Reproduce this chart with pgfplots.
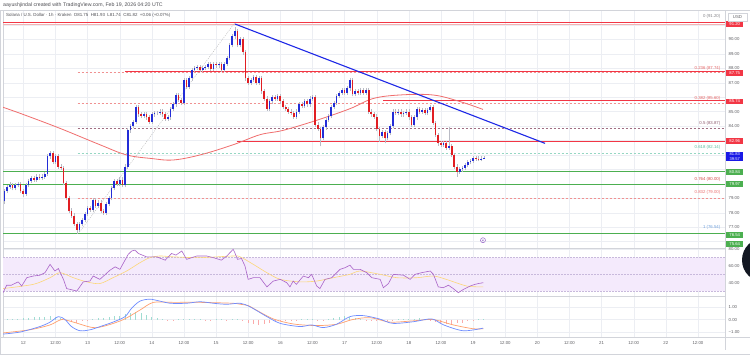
\documentclass[border=0pt]{standalone}
\usepackage{fontspec}
\setmainfont{Liberation Sans}
\usepackage{pgfplots}
\usepackage{pgfplotstable}
\pgfplotsset{compat=1.18}
\newcommand\ft[1]{\fontsize{#1}{#1}\selectfont}
\definecolor{upc}{RGB}{35,45,215}
\definecolor{dnc}{RGB}{225,30,35}
\definecolor{wick}{RGB}{185,187,197}
\definecolor{tvred}{RGB}{242,54,69}
\definecolor{tvgreen}{RGB}{76,175,80}
\definecolor{tblue}{RGB}{30,40,230}
\definecolor{maline}{RGB}{240,110,110}
\definecolor{gridc}{RGB}{236,238,243}
\definecolor{framec}{RGB}{210,212,218}
\definecolor{txt}{RGB}{95,95,100}
\definecolor{boxblue}{RGB}{25,25,230}
\definecolor{fibr}{RGB}{240,145,145}
\definecolor{fibm}{RGB}{160,110,130}
\definecolor{fibt}{RGB}{150,215,195}
\definecolor{rsic}{RGB}{170,100,200}
\definecolor{rsima}{RGB}{252,215,120}
\definecolor{rsiband}{RGB}{244,234,252}
\definecolor{rsidash}{RGB}{200,185,220}
\definecolor{macdc}{RGB}{110,140,255}
\definecolor{sigc}{RGB}{255,160,110}
\definecolor{hpos}{RGB}{160,220,210}
\definecolor{hneg}{RGB}{250,170,170}
\definecolor{t0}{RGB}{130,130,135}
\definecolor{t236}{RGB}{230,100,100}
\definecolor{t5}{RGB}{140,90,110}
\definecolor{t618}{RGB}{90,190,160}
\definecolor{t764}{RGB}{210,70,70}
\definecolor{t832}{RGB}{235,110,110}
\definecolor{t1}{RGB}{110,160,220}
\definecolor{iconc}{RGB}{150,100,200}
\definecolor{hdr}{RGB}{80,80,85}
\definecolor{dark}{RGB}{19,23,34}

\pgfplotstableread{
h o hi lo c
-7 78.8 79.65 78.6 79.5
-6 79.5 79.95 79.35 79.8
-5 79.8 80.1 79.65 79.9
-4 79.9 80.05 79.55 79.7
-3 79.7 80.05 79.55 79.9
-2 79.9 80.15 79.75 80.0
-1 80.0 80.15 79.35 79.5
0 79.5 79.65 79.1 79.3
1 79.3 80.05 79.15 79.9
2 79.9 80.35 79.75 80.2
3 80.2 80.55 80.05 80.4
4 80.4 80.55 80.15 80.3
5 80.3 80.65 80.15 80.5
6 80.5 80.65 80.25 80.4
7 80.4 80.65 80.25 80.5
8 80.5 80.85 80.35 80.7
9 80.7 82.05 80.55 81.9
10 81.9 82.3 81.75 82.1
11 82.1 82.25 81.35 81.5
12 81.5 82.05 81.35 81.9
13 81.9 82.05 81.05 81.2
14 81.2 81.35 80.95 81.1
15 81.1 81.25 79.9 80.05
16 80.05 80.2 78.85 79.0
17 79.0 79.15 77.95 78.1
18 78.1 78.3 77.65 77.8
19 77.8 77.95 77.05 77.2
20 77.2 77.35 76.54 76.8
21 76.8 77.35 76.65 77.2
22 77.2 77.65 77.05 77.5
23 77.5 78.05 77.35 77.9
24 77.9 78.45 77.75 78.3
25 78.3 78.45 78.05 78.2
26 78.2 79.05 78.05 78.9
27 78.9 79.05 78.35 78.5
28 78.5 78.85 78.35 78.7
29 78.7 78.85 77.95 78.1
30 78.1 78.25 77.85 78.0
31 78.0 78.75 77.85 78.6
32 78.6 79.15 78.45 79.0
33 79.0 79.85 78.85 79.7
34 79.7 80.35 79.55 80.2
35 80.2 80.35 79.85 80.0
36 80.0 80.45 79.85 80.3
37 80.3 80.45 79.75 79.9
38 79.9 81.35 79.75 81.2
39 81.2 83.85 81.05 83.7
40 83.7 84.15 83.55 84.0
41 84.0 84.45 83.85 84.3
42 84.3 85.45 84.15 85.3
43 85.3 85.45 84.65 84.8
44 84.8 84.95 84.55 84.7
45 84.7 84.95 84.55 84.8
46 84.8 84.95 84.45 84.6
47 84.6 84.75 84.15 84.3
48 84.3 84.95 84.15 84.8
49 84.8 85.05 84.65 84.9
50 84.9 85.05 84.75 84.9
51 84.9 85.15 84.75 85.0
52 85.0 85.15 84.65 84.8
53 84.8 84.95 84.35 84.5
54 84.5 84.75 84.35 84.6
55 84.6 85.35 84.45 85.2
56 85.2 85.65 85.05 85.5
57 85.5 86.3 85.35 86.15
58 86.15 86.3 85.65 85.8
59 85.8 85.95 85.45 85.6
60 85.6 87.35 85.45 87.2
61 87.2 87.35 86.55 86.7
62 86.7 87.45 86.55 87.3
63 87.3 88.05 87.15 87.9
64 87.9 88.15 87.75 88.0
65 88.0 88.25 87.85 88.1
66 88.1 88.25 87.75 87.9
67 87.9 88.15 87.75 88.0
68 88.0 88.25 87.85 88.1
69 88.1 88.45 87.95 88.3
70 88.3 88.45 87.8 87.95
71 87.95 88.45 87.8 88.3
72 88.3 88.45 88.05 88.2
73 88.2 88.45 88.05 88.3
74 88.3 88.45 87.75 87.9
75 87.9 88.45 87.75 88.3
76 88.3 88.85 88.15 88.7
77 88.7 89.75 88.55 89.6
78 89.6 90.35 89.45 90.2
79 90.2 90.85 90.05 90.6
80 90.6 90.75 89.45 89.6
81 89.6 90.15 89.45 90.0
82 90.0 90.15 88.95 89.1
83 89.1 89.25 87.15 87.3
84 87.3 87.45 86.85 87.0
85 87.0 87.35 86.85 87.2
86 87.2 87.55 87.05 87.4
87 87.4 87.55 86.85 87.0
88 87.0 87.45 86.85 87.3
89 87.3 87.45 86.25 86.4
90 86.4 86.55 85.75 85.9
91 85.9 86.05 85.05 85.2
92 85.2 85.85 85.05 85.7
93 85.7 86.15 85.55 86.0
94 86.0 86.15 85.75 85.9
95 85.9 86.25 85.75 86.1
96 86.1 86.25 85.55 85.7
97 85.7 85.85 85.15 85.3
98 85.3 85.45 85.05 85.2
99 85.2 85.35 84.85 85.0
100 85.0 85.15 84.75 84.9
101 84.9 85.05 84.5 84.65
102 84.65 85.15 84.5 85.0
103 85.0 85.65 84.85 85.5
104 85.5 85.65 85.25 85.4
105 85.4 85.85 85.25 85.7
106 85.7 85.85 85.35 85.5
107 85.5 86.05 85.35 85.9
108 85.9 86.15 85.75 86.0
109 86.0 86.15 83.95 84.1
110 84.1 84.25 83.65 83.8
111 83.8 83.95 82.6 83.15
112 83.15 84.05 83.0 83.9
113 83.9 84.55 83.75 84.4
114 84.4 84.85 84.25 84.7
115 84.7 85.45 84.55 85.3
116 85.3 85.75 85.15 85.6
117 85.6 86.25 85.45 86.1
118 86.1 86.45 85.95 86.3
119 86.3 86.65 86.15 86.5
120 86.5 86.65 86.15 86.3
121 86.3 86.75 86.15 86.6
122 86.6 87.35 86.45 87.2
123 87.2 87.35 86.05 86.2
124 86.2 86.55 86.05 86.4
125 86.4 86.55 86.15 86.3
126 86.3 86.65 86.15 86.5
127 86.5 86.65 86.15 86.3
128 86.3 86.65 86.15 86.5
129 86.5 86.65 84.85 85.0
130 85.0 85.15 84.65 84.8
131 84.8 84.95 84.5 84.65
132 84.65 84.8 83.65 83.8
133 83.8 83.95 82.9 83.3
134 83.3 83.75 83.15 83.6
135 83.6 83.75 82.8 83.15
136 83.15 83.65 83.0 83.5
137 83.5 84.15 83.35 84.0
138 84.0 85.15 83.85 85.0
139 85.0 85.15 84.75 84.9
140 84.9 85.15 84.75 85.0
141 85.0 85.15 84.65 84.8
142 84.8 85.05 84.65 84.9
143 84.9 85.15 84.75 85.0
144 85.0 85.15 84.45 84.6
145 84.6 84.75 83.95 84.1
146 84.1 84.75 83.95 84.6
147 84.6 85.35 84.45 85.2
148 85.2 85.35 84.85 85.0
149 85.0 85.25 84.85 85.1
150 85.1 85.25 84.75 84.9
151 84.9 85.25 84.75 85.1
152 85.1 85.45 84.95 85.3
153 85.3 85.45 84.05 84.2
154 84.2 84.35 83.25 83.4
155 83.4 83.55 82.65 82.8
156 82.8 82.95 82.55 82.7
157 82.7 82.95 82.55 82.8
158 82.8 82.95 82.35 82.5
159 82.5 83.9 82.35 82.6
160 82.6 82.75 81.85 82.0
161 82.0 82.15 81.05 81.2
162 81.2 81.35 80.5 80.85
163 80.85 81.15 80.7 81.0
164 81.0 81.25 80.85 81.1
165 81.1 81.45 80.95 81.3
166 81.3 81.65 81.15 81.5
167 81.5 81.75 81.35 81.6
168 81.6 81.95 81.45 81.8
169 81.8 81.95 81.6 81.75
170 81.75 81.9 81.55 81.7
171 81.7 81.9 81.55 81.75
172 81.75 81.93 81.74 81.82
}\candles

\pgfplotstableread{
h v
-6 0.02
-4 0.05
-2 0.08
0 0.12
2 0.15
4 0.18
6 0.2
8 0.22
10 0.25
12 0.2
14 0.1
16 -0.1
18 -0.2
20 -0.25
22 -0.15
24 -0.05
26 0.05
28 0.1
30 0.15
32 0.2
34 0.25
36 0.3
38 0.4
40 0.55
42 0.6
44 0.5
46 0.35
48 0.2
50 0.1
52 0.05
54 -0.03
56 -0.05
58 0.03
60 0.05
62 0.04
64 0.05
66 0.03
68 -0.02
70 -0.03
72 0.02
74 0.03
76 -0.02
78 0.05
80 0.08
82 -0.15
84 -0.25
86 -0.35
88 -0.4
90 -0.35
92 -0.25
94 -0.15
96 -0.1
98 -0.05
100 -0.05
102 -0.1
104 0.05
106 0.08
108 0.05
110 -0.1
112 -0.08
114 0.05
116 0.12
118 0.2
120 0.25
122 0.22
124 0.12
126 0.05
128 -0.05
130 -0.12
132 -0.15
134 -0.15
136 -0.1
138 -0.05
140 0.03
142 0.05
144 0.05
146 0.08
148 0.1
150 0.05
152 -0.05
154 -0.2
156 -0.3
158 -0.35
160 -0.35
162 -0.3
164 -0.25
166 -0.15
168 -0.05
170 0.03
172 0.05
}\hist

\pgfplotsset{
  pane/.style={
    scale only axis, width=722pt, xmin=-7.58, xmax=262.1,
    xtick={0,12,...,252},
    grid=major, major grid style={draw=gridc, line width=0.35pt},
    tick style={draw=none}, axis line style={draw=framec, line width=0.4pt},
    yticklabel pos=right,
    yticklabel style={font=\ft{4.3}, text=txt, anchor=west, xshift=3.5pt, inner sep=0pt},
    clip mode=individual,
  },
  notx/.style={xticklabel style={opacity=0, font=\ft{2}}},
  body/.style={draw=none, mark=none, forget plot, error bars/.cd, y dir=plus, y explicit, error mark=none, error bar style={draw=#1, solid, line width=1.7pt}},
}
\tikzset{
  pbox/.style={inner sep=0pt, minimum width=17pt, minimum height=5.6pt, anchor=west, xshift=1pt, font=\ft{4.2}, text=white},
  fibl/.style={anchor=south east, inner sep=0.5pt, font=\ft{4.3}},
}

\begin{document}
\begin{tikzpicture}
\useasboundingbox (0,0) rectangle (750pt,-354pt);
\fill[white] (0,0) rectangle (750pt,-354pt);
\draw[framec, line width=0.4pt] (0.3pt,-10pt) rectangle (749.7pt,-353.7pt);

% ---------------- price pane ----------------
\begin{axis}[pane, notx, at={(3pt,-10pt)}, anchor=north west, height=238pt,
  ymin=75.56, ymax=92.03, ytick={76,...,91},
  yticklabels={,77.00,78.00,79.00,,,,,84.00,85.00,,87.00,88.00,89.00,90.00,}]
% fib levels
\addplot[fibr, line width=0.5pt, dash pattern=on 2pt off 2pt] coordinates {(20.3,87.74) (262.1,87.74)};
\addplot[fibr, line width=0.5pt, dash pattern=on 2pt off 2pt] coordinates {(20.3,85.60) (262.1,85.60)};
\addplot[fibm, line width=0.5pt, dash pattern=on 2pt off 2pt] coordinates {(20.3,83.87) (262.1,83.87)};
\addplot[fibt, line width=0.5pt, dash pattern=on 2pt off 2pt] coordinates {(20.3,82.14) (262.1,82.14)};
\addplot[fibr, line width=0.5pt, dash pattern=on 2pt off 2pt] coordinates {(20.3,79.00) (262.1,79.00)};
\addplot[fibr!70, line width=0.5pt] coordinates {(-7.58,91.03) (262.1,91.03)};
\addplot[gray!60, line width=0.4pt, dash pattern=on 1pt off 1.2pt] coordinates {(20.5,76.54) (79.2,91.2)};
% horizontal levels
\addplot[tvred, line width=0.8pt] coordinates {(-7.58,91.20) (262.1,91.20)};
\addplot[tvred, line width=0.8pt] coordinates {(38,87.75) (262.1,87.75)};
\addplot[tvred, line width=0.8pt] coordinates {(134.4,85.74) (262.1,85.74)};
\addplot[tvred, line width=0.8pt] coordinates {(79.7,82.96) (262.1,82.96)};
\addplot[tvgreen, line width=0.8pt] coordinates {(-7.58,80.84) (262.1,80.84)};
\addplot[tvgreen, line width=0.8pt] coordinates {(-7.58,79.97) (262.1,79.97)};
\addplot[tvgreen, line width=0.8pt] coordinates {(-7.58,76.54) (262.1,76.54)};
% moving average
\addplot[maline, line width=0.8pt, smooth, tension=0.6] coordinates {
(-7.58,85.3) (0,84.8) (13.7,83.84) (28.7,82.7) (38.6,82.0) (48,81.75) (55.9,81.65)
(66,82.0) (78.3,82.7) (88.4,83.4) (97,83.7) (109.6,84.4) (122,85.2) (130.6,85.9)
(140.7,86.15) (153,86.15) (163,85.7) (171.7,85.15)};
% candles: wicks
\addplot[draw=none, mark=none, forget plot, error bars/.cd, y dir=plus, y explicit, error mark=none,
  error bar style={draw=wick, solid, line width=0.45pt}]
  table[x=h, y=lo, y error plus expr=\thisrow{hi}-\thisrow{lo}] {\candles};
% candles: up bodies
\addplot[body=upc] table[x=h, y expr={\thisrow{c}>=\thisrow{o} ? \thisrow{o} : nan},
  y error plus expr=\thisrow{c}-\thisrow{o}] {\candles};
% candles: down bodies
\addplot[body=dnc] table[x=h, y expr={\thisrow{c}<\thisrow{o} ? \thisrow{c} : nan},
  y error plus expr=\thisrow{o}-\thisrow{c}] {\candles};
% trend line
\addplot[tblue, line width=1.1pt] coordinates {(79.1,91.06) (194.9,82.8)};
% fib texts
\node[fibl, text=t0, yshift=3.2pt] at (axis cs:260.6,91.20) {0 (91.20)};
\node[fibl, text=t236, yshift=1pt] at (axis cs:260.6,87.74) {0.236 (87.74)};
\node[fibl, text=t236, yshift=2.2pt] at (axis cs:260.6,85.60) {0.382 (85.60)};
\node[fibl, text=t5, yshift=2.2pt] at (axis cs:260.6,83.87) {0.5 (83.87)};
\node[fibl, text=t618, yshift=2.8pt] at (axis cs:260.6,82.14) {0.618 (82.14)};
\node[fibl, text=t764, yshift=2.2pt] at (axis cs:260.6,80.00) {0.764 (80.00)};
\node[fibl, text=t832, yshift=3pt] at (axis cs:260.6,79.00) {0.832 (79.00)};
\node[fibl, text=t1, yshift=4pt] at (axis cs:260.6,76.54) {1 (76.54)};
% marker icon
\node[circle, draw=iconc, line width=0.5pt, inner sep=0pt, minimum size=5pt] at (axis cs:171.7,76.1) {};
\node[circle, fill=iconc, inner sep=0pt, minimum size=1.6pt] at (axis cs:171.7,76.1) {};
% price boxes on scale
\node[pbox, fill=tvred] at (axis cs:262.1,91.05) {91.20};
\node[pbox, fill=tvred] at (axis cs:262.1,87.68) {87.75};
\node[pbox, fill=tvred] at (axis cs:262.1,85.70) {85.74};
\node[pbox, fill=tvred] at (axis cs:262.1,82.96) {82.96};
\node[pbox, fill=boxblue, minimum height=9pt, align=center, font=\fontsize{4.1}{4.5}\selectfont] at (axis cs:262.1,81.90) {81.83\\39:57};
\node[pbox, fill=tvgreen] at (axis cs:262.1,80.84) {80.84};
\node[pbox, fill=tvgreen] at (axis cs:262.1,79.97) {79.97};
\node[pbox, fill=tvgreen] at (axis cs:262.1,76.46) {76.54};
\node[pbox, fill=tvgreen] at (axis cs:262.1,75.83) {75.64};
\end{axis}

% ---------------- RSI pane ----------------
\begin{axis}[pane, notx, at={(3pt,-248pt)}, anchor=north west, height=48pt,
  ymin=24.07, ymax=81.56, ytick={40,60,80}, yticklabels={40.00,60.00,80.00}]
\addplot[fill=rsiband, draw=none] coordinates {(-7.58,30) (262.1,30) (262.1,70) (-7.58,70)} \closedcycle;
\addplot[rsidash, line width=0.4pt, dash pattern=on 1.5pt off 1.5pt] coordinates {(-7.58,70) (262.1,70)};
\addplot[rsidash, line width=0.4pt, dash pattern=on 1.5pt off 1.5pt] coordinates {(-7.58,50) (262.1,50)};
\addplot[rsidash, line width=0.4pt, dash pattern=on 1.5pt off 1.5pt] coordinates {(-7.58,30) (262.1,30)};
\addplot[rsima, line width=0.6pt, smooth] coordinates {
(-7.58,33) (3.7,38) (10,46) (13.7,52) (18.7,46) (23.7,41) (28.6,39) (33.5,46) (38.6,54)
(43.6,64) (47.3,70) (51,72) (56,71) (66,70) (78.3,72) (81,71) (85.9,62) (91,52) (96,44)
(103.4,41) (109.6,42) (115.8,46) (122,50) (125.8,54) (133.3,50) (139.5,46) (147,46)
(153.2,48) (158,44) (165.7,36) (171.8,35)};
\addplot[rsic, line width=0.6pt] coordinates {
(-7.58,28) (-6.2,37) (-4.5,37) (-1.9,41) (-0.6,36) (1.3,46) (3.7,48) (6.2,49) (8.1,52)
(10,62) (11.8,54) (13.1,57) (15,44) (16.2,33) (20,30) (22.4,41) (24.9,42) (26.1,48)
(28.6,44) (32.4,55) (34.3,59) (36.1,56) (39.2,74) (40.5,78) (41.7,79) (43,75) (46,71)
(49.8,71) (53,67) (55.4,75) (57,73) (59.2,78) (61,68) (64.8,72) (68.5,72) (71,70) (74,67)
(76,72) (78.4,80) (79,76) (80,68) (81.5,69) (82.8,60) (84,44) (85.9,46) (88.4,46) (91,35)
(93.4,42) (96,44) (98.4,40) (99.6,35) (100.8,42) (102,38) (104.6,48) (106.5,46) (107.7,50)
(109.6,36) (110.8,33) (112.7,44) (115.2,46) (118.3,56) (120.2,58) (122,61) (123.3,56)
(125.8,56) (128.3,52) (130.2,46) (133.3,44) (134.5,34) (136.4,39) (138.2,50) (142,49)
(144.5,44) (146.3,50) (148.8,52) (152,54) (153.2,50) (155,35) (156.9,34) (158.8,37)
(160.6,33) (162.5,28) (164.4,32) (166.9,36) (168.7,38) (170,39) (171.8,40)};
\end{axis}

% ---------------- MACD pane ----------------
\begin{axis}[pane, at={(3pt,-296pt)}, anchor=north west, height=41pt,
  ymin=-1.37, ymax=1.85, ytick={-1,0,1}, yticklabels={−1.00,0.00,1.00},
  xticklabels={12,12:00,13,12:00,14,12:00,15,12:00,16,12:00,17,12:00,18,12:00,19,12:00,20,12:00,21,12:00,22,12:00},
  xticklabel style={font=\ft{4.3}, text=txt, yshift=-1.2pt}]
\addplot[ycomb, draw=hpos, line width=0.9pt, mark=none] table[x=h, y expr={\thisrow{v}>=0 ? \thisrow{v} : nan}] {\hist};
\addplot[ycomb, draw=hneg, line width=0.9pt, mark=none] table[x=h, y expr={\thisrow{v}<0 ? \thisrow{v} : nan}] {\hist};
\addplot[sigc, line width=0.7pt, smooth] coordinates {
(-7.58,-1.05) (2.5,-0.8) (10,-0.42) (14.3,0) (18.7,-0.2) (26,-0.63) (31,-0.47) (37.4,0)
(43.6,0.75) (48.6,1.35) (56,1.35) (66,1.35) (78.3,1.28) (81,1.2) (84,1.1) (87,0.75)
(93.4,0.05) (101,-0.35) (109.6,-0.47) (117,-0.37) (123,0) (129.5,0.15) (137,-0.2)
(145.7,-0.1) (153,0) (160.6,-0.42) (168,-0.72) (171.8,-0.72)};
\addplot[macdc, line width=0.7pt, smooth] coordinates {
(-7.58,-1.14) (-1.2,-0.98) (6.2,-0.55) (10,-0.2) (13.1,0.23) (15.6,0) (18,-0.55) (21.2,-0.88)
(25,-0.8) (28.7,-0.55) (33.5,-0.2) (38,0.23) (40.5,0.9) (43.6,1.45) (47.3,1.6) (51,1.45)
(54.8,1.28) (61,1.28) (66,1.4) (71,1.28) (76,1.2) (81,1.28) (84.7,1.0) (91,0.23) (96,-0.3)
(103.4,-0.55) (107.7,-0.42) (112,-0.63) (117,-0.37) (122,0.23) (127,0.31) (133,0.05)
(138,-0.3) (145.7,-0.17) (152.6,0.05) (157,-0.42) (164.4,-0.88) (171.8,-0.67)};
\end{axis}

% scale separator and chrome
\draw[framec, line width=0.4pt] (725pt,-10pt) -- (725pt,-350pt);
\draw[framec, line width=0.4pt] (0.3pt,-337pt) -- (749.7pt,-337pt);
\node[draw=framec, fill=white, line width=0.4pt, inner sep=0pt, minimum width=19pt, minimum height=8.5pt, font=\ft{4.3}, text=txt] at (737.5pt,-17pt) {USD};
\node[anchor=west, font=\ft{5.2}, text=hdr, inner sep=0pt] at (3pt,-5pt) {aayushjindal created with TradingView.com, Feb 19, 2026 04:20 UTC};
\node[anchor=west, font=\ft{4.4}, text=hdr, inner sep=0pt] at (6pt,-15.3pt) {Solana / U.S. Dollar · 1h · Kraken~~O81.75~~H81.93~~L81.74~~C81.82~~+0.06 (+0.07\%)};
\begin{scope}
\clip (0,0) rectangle (750pt,-354pt);
\fill[dark] (764pt,-260pt) circle (22pt);
\end{scope}
\end{tikzpicture}
\end{document}
